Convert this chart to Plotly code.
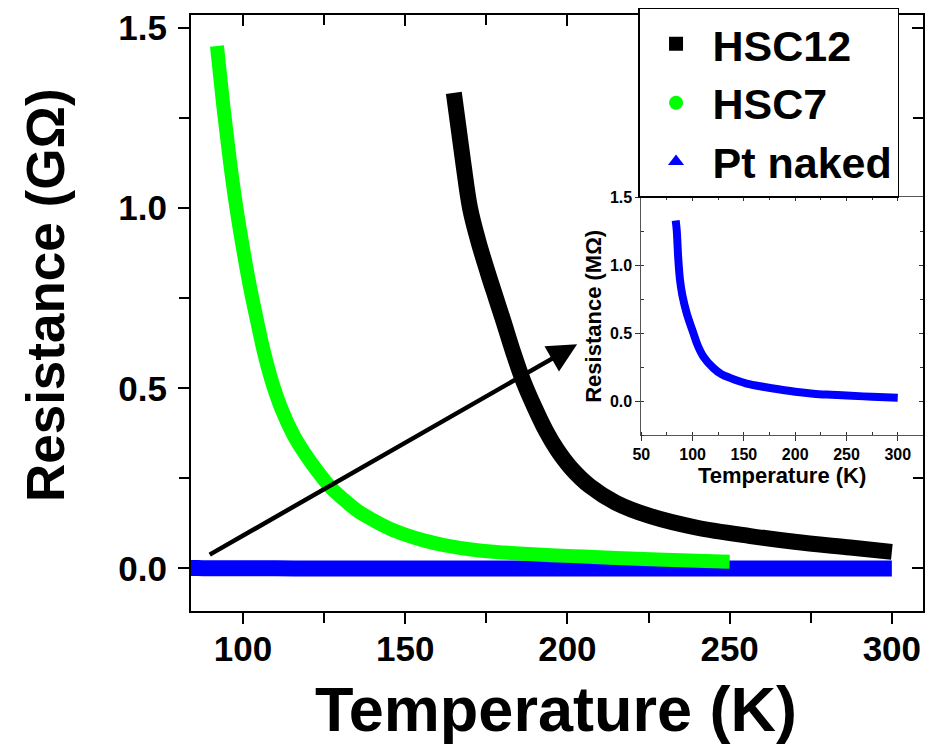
import plotly.graph_objects as go

# ---- data ----
T_hsc12 = [165, 166.5, 168, 170, 172.5, 175.5, 178, 180.2, 183.3, 186.4, 190, 193.5, 196.8, 201, 207, 215, 225.6, 240, 256.4, 270, 287.2, 300]
R_hsc12 = [1.32, 1.22, 1.12, 1.0, 0.91, 0.82, 0.75, 0.689, 0.6, 0.52, 0.445, 0.38, 0.33, 0.28, 0.228, 0.182, 0.145, 0.113, 0.09, 0.074, 0.058, 0.046]

T_hsc7 = [92, 94, 96, 98, 100, 102, 104.3, 106.5, 108.9, 112, 115.6, 119, 122.8, 126.9, 131, 135.2, 140, 145.4, 150, 155.7, 162, 171, 178, 186.5, 195, 205, 215, 230, 250]
R_hsc7 = [1.45, 1.28, 1.13, 1.0, 0.89, 0.79, 0.69, 0.6, 0.52, 0.44, 0.37, 0.32, 0.272, 0.226, 0.192, 0.161, 0.135, 0.11, 0.094, 0.078, 0.065, 0.052, 0.046, 0.041, 0.037, 0.033, 0.029, 0.024, 0.019]

T_pt = [83.5, 84.5, 86, 87.7, 90, 94.2, 100.7, 105, 110.4, 120.2, 128, 136.4, 152.7, 170, 185.2, 200, 217.6, 235, 250.2, 275, 300]
R_pt_mohm = [1.33, 1.26, 1.05, 0.893, 0.78, 0.649, 0.502, 0.41, 0.33, 0.245, 0.2, 0.172, 0.13, 0.105, 0.086, 0.07, 0.056, 0.048, 0.042, 0.033, 0.025]
R_pt_gohm = [r / 1000.0 for r in R_pt_mohm]

legend_names = ["HSC12", "HSC7", "Pt naked"]
legend_colors = ["#000000", "#00FF00", "#0000FF"]
legend_symbols = ["square", "circle", "triangle-up"]

main_x_ticks = [100, 150, 200, 250, 300]
main_y_ticks = [0.0, 0.5, 1.0, 1.5]
inset_x_ticks = [50, 100, 150, 200, 250, 300]
inset_y_ticks = [0.0, 0.5, 1.0, 1.5]
y_tick_text = ["0.0", "0.5", "1.0", "1.5"]

FONT = "Liberation Sans, Arial, sans-serif"

fig = go.Figure()

# main curves
fig.add_trace(go.Scatter(x=T_pt, y=R_pt_gohm, mode="lines", line=dict(color="#0000FF", width=16, shape="spline"),
                         showlegend=False, xaxis="x", yaxis="y"))
fig.add_trace(go.Scatter(x=T_hsc7, y=R_hsc7, mode="lines", line=dict(color="#00FF00", width=14, shape="spline"),
                         showlegend=False, xaxis="x", yaxis="y"))
fig.add_trace(go.Scatter(x=T_hsc12, y=R_hsc12, mode="lines", line=dict(color="#000000", width=16, shape="spline"),
                         showlegend=False, xaxis="x", yaxis="y"))

# legend entries
for n, c, s in zip(legend_names, legend_colors, legend_symbols):
    fig.add_trace(go.Scatter(x=[None], y=[None], mode="markers", name=n, legendgroup=n,
                             marker=dict(color=c, symbol=s, size=14), xaxis="x", yaxis="y"))

# inset curve
fig.add_trace(go.Scatter(x=T_pt, y=R_pt_mohm, mode="lines", line=dict(color="#0000FF", width=8, shape="spline"),
                         showlegend=False, xaxis="x2", yaxis="y2"))

# dummy traces for mirror axes
fig.add_trace(go.Scatter(x=[None], y=[None], showlegend=False, xaxis="x3", yaxis="y3", hoverinfo="skip"))
fig.add_trace(go.Scatter(x=[None], y=[None], showlegend=False, xaxis="x4", yaxis="y4", hoverinfo="skip"))

XR = [84, 309.6]
YR = [-0.118, 1.536]
IXR = [50, 324.6]
IYR = [-0.25, 1.5]
inset_dom_x = [0.6152, 1.0]
inset_dom_y = [0.2949, 0.694]

tickfont_main = dict(family=FONT, size=35, color="black", weight="bold")
tickfont_inset = dict(family=FONT, size=16, color="black", weight="bold")

common = dict(showgrid=False, zeroline=False, automargin=False)

fig.update_layout(
    width=929, height=745,
    margin=dict(l=191, r=6, t=15, b=134),
    paper_bgcolor="white", plot_bgcolor="white",
    font=dict(family=FONT, color="black"),
    xaxis=dict(range=XR, domain=[0, 1], anchor="y", tickmode="array", tickvals=main_x_ticks,
               showline=True, linecolor="black", linewidth=2, ticks="outside", ticklen=11, tickwidth=2,
               tickcolor="black", tickfont=tickfont_main, ticklabelstandoff=-5,
               minor=dict(dtick=25, tick0=0, ticks="outside", ticklen=10, tickwidth=2, tickcolor="black"),
               **common),
    yaxis=dict(range=YR, domain=[0, 1], anchor="x", tickmode="array", tickvals=main_y_ticks,
               ticktext=y_tick_text,
               showline=True, linecolor="black", linewidth=2, ticks="outside", ticklen=11, tickwidth=2,
               tickcolor="black", tickfont=tickfont_main, ticklabelstandoff=4,
               minor=dict(dtick=0.25, tick0=0, ticks="outside", ticklen=10, tickwidth=2, tickcolor="black"),
               **common),
    xaxis3=dict(range=XR, overlaying="x", side="top", anchor="y3", tickmode="array", tickvals=main_x_ticks,
                showticklabels=False, showline=True, linecolor="black", linewidth=2, ticks="inside",
                ticklen=11, tickwidth=2, tickcolor="black",
                minor=dict(dtick=25, tick0=0, ticks="inside", ticklen=10, tickwidth=2, tickcolor="black"),
                **common),
    yaxis3=dict(range=YR, overlaying="y", side="right", anchor="x3", tickmode="array", tickvals=main_y_ticks,
                showticklabels=False, showline=True, linecolor="black", linewidth=2, ticks="inside",
                ticklen=11, tickwidth=2, tickcolor="black",
                minor=dict(dtick=0.25, tick0=0, ticks="inside", ticklen=10, tickwidth=2, tickcolor="black"),
                **common),
    xaxis2=dict(range=IXR, domain=inset_dom_x, anchor="y2", tickmode="array", tickvals=inset_x_ticks,
                showline=True, linecolor="#555555", linewidth=1, ticks="outside", ticklen=5, tickwidth=1,
                tickcolor="#333333", tickfont=tickfont_inset,
                minor=dict(dtick=25, tick0=0, ticks="inside", ticklen=3, tickwidth=1, tickcolor="#333333"),
                title=dict(text="Temperature (K)", font=dict(family=FONT, size=22, weight="bold"), standoff=2),
                **common),
    yaxis2=dict(range=IYR, domain=inset_dom_y, anchor="x2", tickmode="array", tickvals=inset_y_ticks,
                ticktext=y_tick_text,
                showline=True, linecolor="#555555", linewidth=1, ticks="outside", ticklen=5, tickwidth=1,
                tickcolor="#333333", tickfont=tickfont_inset,
                minor=dict(dtick=0.25, tick0=0, ticks="inside", ticklen=3, tickwidth=1, tickcolor="#333333"),
                title=dict(text="Resistance (MΩ)", font=dict(family=FONT, size=22, weight="bold"), standoff=2),
                **common),
    xaxis4=dict(range=IXR, domain=inset_dom_x, overlaying="x2", side="top", anchor="y4", tickmode="array",
                tickvals=inset_x_ticks, showticklabels=False, showline=True, linecolor="#555555", linewidth=1,
                ticks="inside", ticklen=4, tickwidth=1, tickcolor="#333333",
                minor=dict(dtick=25, tick0=0, ticks="inside", ticklen=3, tickwidth=1, tickcolor="#333333"),
                **common),
    yaxis4=dict(range=IYR, domain=inset_dom_y, overlaying="y2", side="right", anchor="x4", tickmode="array",
                tickvals=inset_y_ticks, showticklabels=False, showline=False,
                ticks="inside", ticklen=4, tickwidth=1, tickcolor="#333333",
                minor=dict(dtick=0.25, tick0=0, ticks="inside", ticklen=3, tickwidth=1, tickcolor="#333333"),
                **common),
    legend=dict(x=0.6107, y=1.012, xanchor="left", yanchor="top", bgcolor="white", bordercolor="black",
                borderwidth=1.5, font=dict(family=FONT, size=43, weight="bold", color="black"),
                tracegroupgap=0, itemwidth=63),
    showlegend=True,
)

# main axis titles
fig.add_annotation(text="Temperature (K)", xref="paper", yref="paper", x=0.4986, y=-0.1645,
                   xanchor="center", yanchor="middle", showarrow=False,
                   font=dict(family=FONT, size=63, weight="bold", color="black"))
fig.add_annotation(text="Resistance (GΩ)", xref="paper", yref="paper", x=-0.1995, y=0.530,
                   xanchor="center", yanchor="middle", showarrow=False, textangle=-90,
                   font=dict(family=FONT, size=53, weight="bold", color="black"))

# arrow
fig.add_annotation(x=203, y=0.622, ax=89.3, ay=0.036, xref="x", yref="y", axref="x", ayref="y",
                   showarrow=True, arrowhead=2, arrowsize=1.3, arrowwidth=4.5, arrowcolor="black", text="")

fig.write_html("out.html", config={"displayModeBar": False},
               post_script="document.body.style.margin='0';document.body.style.overflow='hidden';")
